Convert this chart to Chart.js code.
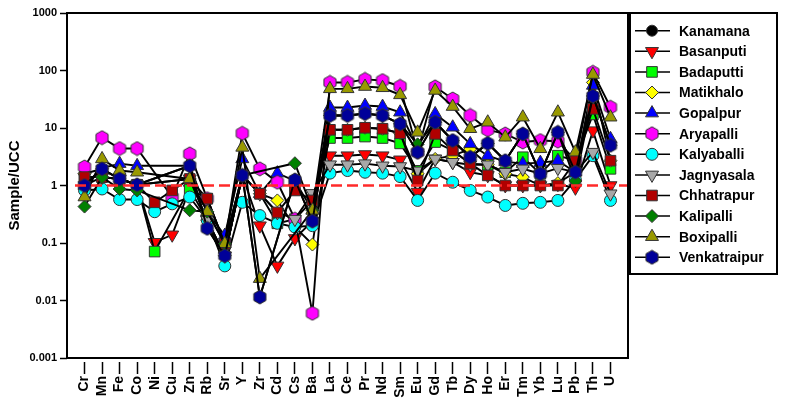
<!DOCTYPE html>
<html><head><meta charset="utf-8">
<script src="https://cdn.jsdelivr.net/npm/chart.js@4.4.0/dist/chart.umd.min.js"></script>
<style>html,body{margin:0;padding:0;background:#fff;}#wrap{width:785px;height:407px;}</style>
</head><body><div id="wrap"><canvas id="c" width="785" height="407"></canvas></div>
<script>
const categories = ['Cr','Mn','Fe','Co','Ni','Cu','Zn','Rb','Sr','Y','Zr','Cd','Cs','Ba','La','Ce','Pr','Nd','Sm','Eu','Gd','Tb','Dy','Ho','Er','Tm','Yb','Lu','Pb','Th','U'];
const seriesNames = ['Kanamana','Basanputi','Badaputti','Matikhalo','Gopalpur','Aryapalli','Kalyaballi','Jagnyasala','Chhatrapur','Kalipalli','Boxipalli','Venkatraipur'];

const kanamana     = [1.0,1.9,1.3,1.03,null,null,2.2,0.18,0.06,1.5,0.0115,null,1.25,0.24,16.5,16.5,17.8,16.5,11.8,3.8,12.6,6.06,3.1,5.4,2.7,7.9,1.6,8.4,1.7,36,5.0];
const basanputi    = [1.4,1.4,1.3,1.03,0.103,0.139,0.87,0.25,0.06,1.5,0.2,0.04,0.12,0.24,3.3,3.3,3.46,3.3,2.8,0.77,2.9,2.54,1.7,1.5,1.0,1.0,1.0,1.05,0.91,9.0,1.0];
const badaputti    = [1.4,1.4,1.3,1.03,0.071,null,0.87,0.59,0.097,1.5,0.72,0.22,0.26,0.55,6.7,6.7,7.1,6.7,5.4,1.8,5.7,4.06,2.4,2.3,1.7,3.1,1.6,3.3,2.7,17.2,1.95];
const matikhalo    = [1.6,1.95,1.3,1.03,null,null,1.3,0.25,0.06,1.5,0.72,0.55,0.19,0.094,9.3,9.3,10.1,9.7,8.1,1.6,2.9,3.3,4.3,2.3,1.6,1.4,1.0,1.1,1.7,62,2.7];
const gopalpur     = [1.0,2.0,2.4,2.2,null,null,2.2,0.35,0.135,2.9,0.72,1.64,1.2,0.37,22.7,22.7,24.6,23.6,18.8,4.5,17.6,10.3,5.3,3.3,2.6,2.4,2.5,2.7,1.7,55,6.5];
const aryapalli    = [2.1,6.8,4.4,4.4,null,0.63,3.55,0.59,0.097,8.1,1.95,1.14,0.26,0.006,62,62,70,67,53,3.8,52,32,16.5,9.3,7.9,5.7,6.06,5.9,2.7,93,23];
const kalyaballi   = [0.82,0.87,0.57,0.57,0.35,0.48,0.63,0.25,0.04,0.51,0.3,0.22,0.19,0.2,1.64,1.82,1.7,1.64,1.43,0.55,1.64,1.14,0.82,0.63,0.45,0.49,0.51,0.55,1.25,3.3,0.55];
const jagnyasala   = [1.0,1.4,1.3,1.03,null,null,1.3,0.25,0.06,1.5,0.72,0.34,0.26,0.73,2.3,2.3,2.4,2.2,2.14,1.8,2.9,2.54,2.3,2.3,1.7,1.95,1.6,2.0,1.7,3.8,0.72];
const chhatrapur   = [1.4,1.4,1.3,1.03,0.51,0.82,1.3,0.59,0.097,1.5,0.72,0.34,0.82,0.55,9.3,9.3,10.1,9.7,8.1,1.22,7.9,4.06,2.4,1.5,1.0,1.0,1.0,1.0,2.7,21.5,2.7];
const kalipalli    = [0.43,1.4,0.87,0.82,null,null,0.37,0.35,0.097,1.5,null,null,2.44,0.37,16.5,16.5,17.8,16.5,11.8,5.2,12.6,6.06,3.1,5.4,2.7,7.9,1.6,8.4,1.2,36,5.0];
const boxipalli    = [0.63,2.9,1.82,1.7,null,null,1.3,0.35,0.097,4.6,0.024,null,null,0.37,48,48,52.6,50,37.7,8.4,45,23.6,9.7,12.6,6.9,15.4,4.35,18.8,3.8,85,15.4];
const venkatraipur = [1.0,1.95,1.3,1.03,null,null,2.2,0.18,0.06,1.5,0.0115,null,1.25,0.24,16.5,16.5,17.8,16.5,11.8,3.8,12.6,6.06,3.1,5.4,2.7,7.9,1.6,8.4,1.7,36,5.0];

const yTickValues = [0.001,0.01,0.1,1,10,100,1000];
const yTickLabels = ['0.001','0.01','0.1','1','10','100','1000'];
const referenceLevel = 1;

function hexCanvas(fill){
  const c=document.createElement('canvas'); c.width=16; c.height=16;
  const g=c.getContext('2d');
  g.beginPath();
  for(let k=0;k<6;k++){const a=-Math.PI/2+k*Math.PI/3; const px=8+7*Math.cos(a), py=8+7*Math.sin(a); if(k===0)g.moveTo(px,py); else g.lineTo(px,py);}
  g.closePath(); g.fillStyle=fill; g.fill(); g.lineWidth=1; g.strokeStyle='#333'; g.stroke();
  return c;
}

const allValues = [kanamana,basanputi,badaputti,matikhalo,gopalpur,aryapalli,kalyaballi,jagnyasala,chhatrapur,kalipalli,boxipalli,venkatraipur];
const styles = [
  {fill:'#000000', ps:'circle', r:5.5, rot:0},
  {fill:'#ff0000', ps:'triangle', r:7.5, rot:180},
  {fill:'#00ff00', ps:'rect', r:7.5, rot:0},
  {fill:'#ffff00', ps:'rectRot', r:6.5, rot:0},
  {fill:'#0000ff', ps:'triangle', r:7.5, rot:0},
  {fill:'#ff00ff', ps:'hex', r:7, rot:0},
  {fill:'#00ffff', ps:'circle', r:6, rot:0},
  {fill:'#a8a8a8', ps:'triangle', r:7.5, rot:180},
  {fill:'#b00000', ps:'rect', r:7.5, rot:0},
  {fill:'#008000', ps:'rectRot', r:6.5, rot:0},
  {fill:'#999900', ps:'triangle', r:7.5, rot:0},
  {fill:'#000099', ps:'hex', r:7, rot:0}
];
styles.forEach(s=>{ if(s.ps==='hex'){ s.ps = hexCanvas(s.fill); } });

const datasets = seriesNames.map((name,i)=>({
  label:name,
  data: allValues[i].map((v,j)=>({x:j,y:v})),
  borderColor:'#000', borderWidth:1.9, tension:0, spanGaps:true,
  pointStyle: styles[i].ps, pointRotation: styles[i].rot, pointRadius: styles[i].r,
  pointBackgroundColor: styles[i].fill, pointBorderColor:'#333', pointBorderWidth:1,
  pointHoverRadius: styles[i].r,
  order: seriesNames.length - i
}));

const FONT = 'Liberation Sans, Arial, sans-serif';

const framePlugin = {
  id:'frame',
  afterDatasetsDraw(chart){
    const {ctx, chartArea:a, scales} = chart;
    ctx.save();
    const y = scales.y.getPixelForValue(referenceLevel);
    ctx.strokeStyle='#ff2a2a'; ctx.lineWidth=2.5; ctx.setLineDash([11,5]);
    ctx.beginPath(); ctx.moveTo(a.left+8,y); ctx.lineTo(a.right,y); ctx.stroke();
    ctx.setLineDash([]);
    ctx.strokeStyle='#000'; ctx.lineWidth=2;
    ctx.strokeRect(a.left,a.top,a.right-a.left,a.bottom-a.top);
    ctx.restore();
  },
  afterDraw(chart){
    const ctx = chart.ctx;
    ctx.save();
    ctx.strokeStyle='#000'; ctx.lineWidth=2;
    ctx.strokeRect(630,13,147,261);
    ctx.font = 'bold 14px '+FONT;
    ctx.textBaseline='middle'; ctx.textAlign='left'; ctx.fillStyle='#000';
    seriesNames.forEach((name,i)=>{
      const y = 30.7 + i*20.6;
      ctx.strokeStyle='#000'; ctx.lineWidth=1.5;
      ctx.beginPath(); ctx.moveTo(635,y); ctx.lineTo(670,y); ctx.stroke();
      const s = styles[i];
      ctx.fillStyle = s.fill; ctx.strokeStyle='#333'; ctx.lineWidth=1;
      if (Chart.helpers && Chart.helpers.drawPoint) {
        Chart.helpers.drawPoint(ctx,{pointStyle:s.ps, rotation:s.rot, radius:s.r, borderWidth:1}, 652, y);
      } else {
        ctx.beginPath(); ctx.arc(652,y,s.r,0,Math.PI*2); ctx.fill(); ctx.stroke();
      }
      ctx.fillStyle='#000';
      ctx.fillText(name, 679, y+1);
    });
    ctx.restore();
  }
};

new Chart(document.getElementById('c'), {
  type:'line',
  data:{datasets},
  options:{
    responsive:false, animation:false, devicePixelRatio:1,
    layout:{padding:{top:13,right:157,bottom:0,left:0}},
    plugins:{legend:{display:false}, tooltip:{enabled:false}},
    scales:{
      x:{
        type:'linear', min:-1, max:31,
        afterBuildTicks(s){ s.ticks = categories.map((c,i)=>({value:i})); },
        afterFit(s){ s.height = 49; },
        ticks:{autoSkip:false, minRotation:90, maxRotation:90, padding:2, color:'#000',
          font:{family:FONT, weight:'bold', size:14},
          callback:(v)=> categories[Math.round(v)] },
        grid:{drawOnChartArea:false, tickLength:16, tickColor:'#000', tickWidth:1.5, tickBorderDash:[0,4,12,100]},
        border:{display:false}
      },
      y:{
        type:'logarithmic', min:0.001, max:1000,
        afterBuildTicks(s){ s.ticks = yTickValues.map(v=>({value:v})); },
        afterFit(s){ s.width = 67; },
        ticks:{padding:3, color:'#000', font:{family:FONT, weight:'bold', size:11},
          callback:(v)=> yTickLabels[Math.round(Math.log10(v))+3] },
        grid:{drawOnChartArea:false, tickLength:7, tickColor:'#000', tickWidth:1.5},
        border:{display:false},
        title:{display:true, text:'Sample/UCC', color:'#000', font:{family:FONT, weight:'bold', size:15}, padding:{top:6,bottom:0}}
      }
    }
  },
  plugins:[framePlugin]
});
</script>
</body></html>
